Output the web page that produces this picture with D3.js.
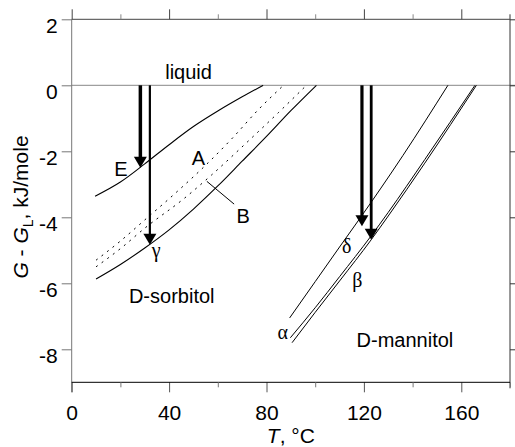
<!DOCTYPE html>
<html><head><meta charset="utf-8">
<script src="https://cdn.jsdelivr.net/npm/d3@7"></script>
<style>body{margin:0;background:#fff}svg{display:block}text{font-family:"Liberation Sans",Arial,sans-serif;fill:#000}</style>
</head><body><svg id="c" width="515" height="447"></svg>
<script>
// ---- data (T in °C, G-GL in kJ/mole) ----
const xTicks = [0, 40, 80, 120, 160];
const xMinor = [20, 60, 100, 140, 180];
const yTicks = [2, 0, -2, -4, -6, -8];
const curveE = [[9.6,-3.36],[20,-2.93],[30,-2.38],[40,-1.8],[50,-1.25],[60,-0.78],[70,-0.35],[78.6,0]];
const curveGamma = [[10,-5.87],[20,-5.43],[30,-4.93],[40,-4.38],[50,-3.75],[60,-3.05],[70,-2.3],[80,-1.55],[90,-0.77],[100.5,0]];
const curveA = [[10,-5.3],[20,-4.72],[30,-4.08],[42.4,-3.28],[56,-2.35],[66,-1.6],[76.5,-0.75],[87,0]];
const curveB = [[10,-5.5],[20,-4.95],[30,-4.33],[46.5,-3.41],[57.4,-2.72],[73.1,-1.65],[85,-0.82],[96.4,0]];
const curveDelta = [[89.5,-7.05],[100,-5.95],[110,-4.9],[118,-4.07],[136,-2.13],[154.5,0]];
const curveAlpha = [[89.8,-7.65],[100,-6.74],[110,-5.8],[123,-4.56],[130,-3.85],[145,-2.25],[165.6,0]];
const curveBeta = [[90.5,-7.8],[100,-6.88],[110,-5.93],[123,-4.68],[130,-3.96],[145,-2.36],[166.2,0]];
// arrows: [x, yEnd, strokeWidth]
const arrows = [[28.2,-2.5,3.5],[32.1,-4.83,2.2],[119.2,-4.27,3.2],[123.0,-4.68,2.8]];
const labels = [
  {t:"liquid", x:48, y:0.2, a:"middle", f:"sans"},
  {t:"E", x:17.5, y:-2.75, a:"start", f:"sans"},
  {t:"A", x:52, y:-2.43, a:"middle", f:"sans"},
  {t:"B", x:67.7, y:-4.17, a:"start", f:"sans"},
  {t:"γ", x:34.7, y:-5.2, a:"middle", f:"serif"},
  {t:"D-sorbitol", x:23.5, y:-6.6, a:"start", f:"sans"},
  {t:"δ", x:111, y:-5.07, a:"start", f:"serif"},
  {t:"β", x:115.2, y:-6.1, a:"start", f:"serif"},
  {t:"α", x:84.5, y:-7.7, a:"start", f:"serif"},
  {t:"D-mannitol", x:117, y:-7.92, a:"start", f:"sans"}
];

const L = 71.7, R = 510, T = 19.3, B = 382.3;
const x = d3.scaleLinear().domain([0,180]).range([L,R]);
const y = d3.scaleLinear().domain([-9,2]).range([B,T]);
const svg = d3.select("#c");
const fmt = d => String(d);

// liquid line
svg.append("line").attr("x1",L).attr("x2",R+5).attr("y1",y(0)).attr("y2",y(0))
  .attr("stroke","#888").attr("stroke-width",1);

// axes
const fs = 21;
const gL = svg.append("g").attr("transform",`translate(${L},0)`)
  .call(d3.axisLeft(y).tickValues(yTicks).tickSize(10).tickPadding(4).tickFormat(fmt));
gL.selectAll("path,line").attr("stroke","#777");
gL.select(".domain").remove();
gL.append("line").attr("x1",0).attr("x2",0).attr("y1",T).attr("y2",B+10).attr("stroke","#777");
gL.selectAll("text").attr("font-size",fs).attr("dy","0.62em").style("font-family","Liberation Sans, Arial, sans-serif").attr("fill","#000");

const gR = svg.append("g").attr("transform",`translate(${R},0)`)
  .call(d3.axisRight(y).tickValues(yTicks).tickSize(5).tickFormat(""));
gR.select(".domain").remove();
gR.append("line").attr("x1",0).attr("x2",0).attr("y1",T-5).attr("y2",B+6);
gR.selectAll("line").attr("stroke","#333");

const gB = svg.append("g").attr("transform",`translate(0,${B})`)
  .call(d3.axisBottom(x).tickValues(xTicks).tickSize(10).tickPadding(13).tickFormat(fmt));
gB.select(".domain").remove();
gB.append("line").attr("x1",L).attr("x2",R).attr("y1",0).attr("y2",0).attr("stroke","#000");
gB.selectAll(".tick line").attr("stroke","#555");
gB.selectAll("text").attr("font-size",fs).style("font-family","Liberation Sans, Arial, sans-serif").attr("fill","#000");
const gBm = svg.append("g").attr("transform",`translate(0,${B})`)
  .call(d3.axisBottom(x).tickValues(xMinor).tickSize(5).tickFormat(""));
gBm.select(".domain").remove();
gBm.selectAll("line").attr("stroke","#777");

const gT = svg.append("g").attr("transform",`translate(0,${T})`)
  .call(d3.axisTop(x).tickValues(xTicks).tickSize(10).tickFormat(""));
gT.select(".domain").remove();
gT.append("line").attr("x1",L).attr("x2",R).attr("y1",0).attr("y2",0);
gT.selectAll("line").attr("stroke","#444");
const gTm = svg.append("g").attr("transform",`translate(0,${T})`)
  .call(d3.axisTop(x).tickValues(xMinor.slice(0,4)).tickSize(5).tickFormat(""));
gTm.select(".domain").remove();
gTm.selectAll("line").attr("stroke","#888");

// axis titles
svg.append("text").attr("x",x(90)).attr("y",443).attr("text-anchor","middle").attr("font-size",fs)
  .html('<tspan font-style="italic">T</tspan>, °C');
const yt = svg.append("text").attr("transform",`translate(28,${207}) rotate(-90)`)
  .attr("text-anchor","middle").attr("font-size",fs);
yt.append("tspan").attr("font-style","italic").text("G");
yt.append("tspan").text(" - ");
yt.append("tspan").attr("font-style","italic").text("G");
yt.append("tspan").attr("font-size",14).attr("dy",5).text("L");
yt.append("tspan").attr("dy",-5).text(", kJ/mole");

// curves
const line = d3.line().x(d=>x(d[0])).y(d=>y(d[1])).curve(d3.curveMonotoneX);
const draw = (data, w, dash) => svg.append("path").datum(data).attr("d",line)
  .attr("fill","none").attr("stroke","#000").attr("stroke-width",w).attr("stroke-dasharray",dash||null);
draw(curveE,1.1); draw(curveGamma,1.1);
draw(curveA,1,"2,5"); draw(curveB,1,"2,5");
draw(curveDelta,1); draw(curveAlpha,1); draw(curveBeta,1);

// arrows
arrows.forEach(([ax,ay,w])=>{
  const px=x(ax), py=y(ay);
  svg.append("line").attr("x1",px).attr("x2",px).attr("y1",y(0)).attr("y2",py-8)
    .attr("stroke","#000").attr("stroke-width",w);
  svg.append("path").attr("d",`M${px-6.5},${py-11}L${px+6.5},${py-11}L${px},${py}Z`).attr("fill","#000");
});

// B leader
svg.append("line").attr("x1",x(55.5)).attr("y1",y(-2.91)).attr("x2",x(66.7)).attr("y2",y(-3.6))
  .attr("stroke","#000").attr("stroke-width",1);

// labels
labels.forEach(l=>svg.append("text").attr("x",x(l.x)).attr("y",y(l.y)).attr("text-anchor",l.a)
  .attr("font-size",20).style("font-family", l.f==="serif" ? "Liberation Serif, Times New Roman, serif" : null).text(l.t));
</script></body></html>
